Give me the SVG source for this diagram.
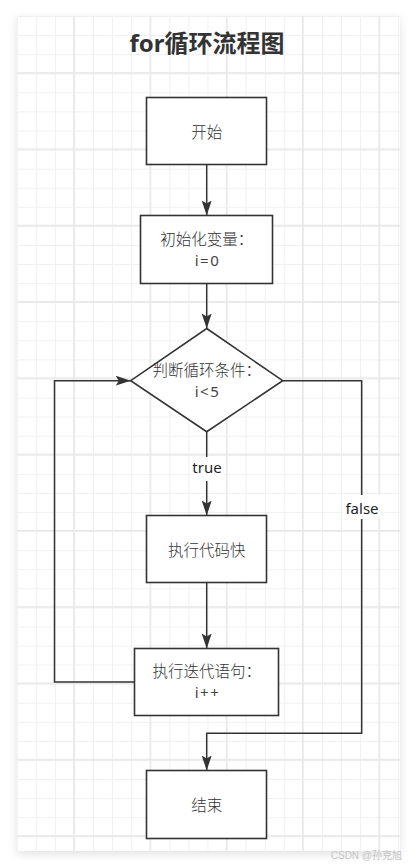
<svg xmlns="http://www.w3.org/2000/svg" width="417" height="867" viewBox="0 0 417 867">
  <defs>
    <style>
      .node { fill: #ffffff; stroke: #333333; stroke-width: 1.6; }
      .edge { fill: none; stroke: #333333; stroke-width: 1.5; }
      .lbl { font-family: "Noto Sans CJK SC", "Noto Sans", sans-serif; font-size: 15.5px; font-weight: 300; fill: #333333; text-anchor: middle; }
      .sp { font-family: "Noto Sans", sans-serif; font-size: 15px; font-weight: 400; fill: #444444; letter-spacing: 1.5px; text-anchor: middle; }
      .elbl { font-family: "Noto Sans", "Noto Sans CJK SC", sans-serif; font-size: 15px; fill: #1f1f1f; text-anchor: middle; }
      .title { font-family: "Noto Sans", "Noto Sans CJK SC", sans-serif; font-size: 24px; font-weight: bold; fill: #333333; text-anchor: middle; }
      .wm { font-family: "Liberation Sans", "Noto Sans CJK SC", sans-serif; font-size: 10px; fill: #c4c4c4; text-anchor: end; }
    </style>
    <pattern id="minor" patternUnits="userSpaceOnUse" x="7.2" y="6.5" width="19.075" height="19.075">
      <rect x="9.5" y="0" width="1" height="19.075" fill="#f0f0f0"/>
      <rect x="0" y="9.5" width="19.075" height="1" fill="#f0f0f0"/>
    </pattern>
    <pattern id="major" patternUnits="userSpaceOnUse" x="35.5" y="34.5" width="76.3" height="76.3">
      <rect x="37.6" y="0" width="1.6" height="76.3" fill="#e8e8e8"/>
      <rect x="0" y="37.6" width="76.3" height="1.6" fill="#e8e8e8"/>
    </pattern>
    <filter id="shadow" x="-10%" y="-10%" width="120%" height="120%">
      <feDropShadow dx="0" dy="3" stdDeviation="5" flood-color="#000000" flood-opacity="0.12"/>
    </filter>
    <marker id="arrow" viewBox="0 0 15 10" refX="15" refY="5" markerWidth="15" markerHeight="10" markerUnits="userSpaceOnUse" orient="auto">
      <path d="M0,0 L15,5 L0,10 L3,5 Z" fill="#333333"/>
    </marker>
  </defs>

  <rect x="0" y="0" width="417" height="867" fill="#ffffff"/>
  <g id="canvas">
    <rect x="17" y="16" width="383" height="835" fill="#ffffff" filter="url(#shadow)"/>
    <rect x="17" y="16" width="383" height="835" fill="url(#minor)"/>
    <rect x="17" y="16" width="383" height="835" fill="url(#major)"/>
  </g>

  <text class="title" x="207" y="52">for循环流程图</text>

  <g id="connectors">
    <path class="edge" d="M206.7,164.7 V215.5" marker-end="url(#arrow)"/>
    <path class="edge" d="M206.7,283.5 V328.5" marker-end="url(#arrow)"/>
    <path class="edge" d="M206.7,431.7 V515.5" marker-end="url(#arrow)"/>
    <path class="edge" d="M206.7,582.7 V648.5" marker-end="url(#arrow)"/>
    <path class="edge" d="M134.5,682 H54.5 V380.7 H130.7" marker-end="url(#arrow)"/>
    <path class="edge" d="M282.7,380.7 H361.7 V733.3 H206.7 V770.5" marker-end="url(#arrow)"/>
    <g id="label-true">
      <rect x="191" y="457" width="32" height="24" fill="#ffffff"/>
      <text class="elbl" x="207" y="472.5">true</text>
    </g>
    <g id="label-false">
      <rect x="343" y="495" width="38" height="24" fill="#ffffff"/>
      <text class="elbl" x="362" y="514">false</text>
    </g>
  </g>

  <g id="node-start">
    <rect class="node" x="146.5" y="97.5" width="120" height="67"/>
    <text class="lbl" x="206.7" y="137.5">开始</text>
  </g>

  <g id="node-init">
    <rect class="node" x="140.5" y="215.5" width="132" height="68"/>
    <text class="lbl" x="206.7" y="244.5">初始化变量：</text>
    <text class="sp" x="207.5" y="265.5">i=0</text>
  </g>

  <g id="node-cond">
    <polygon class="node" points="206.7,328.5 282.7,380.7 206.7,431.7 130.7,380.7"/>
    <text class="lbl" x="206.7" y="376">判断循环条件：</text>
    <text class="sp" x="207.5" y="396.5">i&lt;5</text>
  </g>

  <g id="node-body">
    <rect class="node" x="146.5" y="515.5" width="120" height="67"/>
    <text class="lbl" x="206.7" y="556">执行代码快</text>
  </g>

  <g id="node-iter">
    <rect class="node" x="134.5" y="648.5" width="144" height="67"/>
    <text class="lbl" x="206.7" y="677">执行迭代语句：</text>
    <text class="sp" x="207.5" y="697.8">i++</text>
  </g>

  <g id="node-end">
    <rect class="node" x="146.5" y="770.5" width="120" height="68"/>
    <text class="lbl" x="206.7" y="810.5">结束</text>
  </g>

  <text class="wm" x="402" y="859">CSDN @孙克旭</text>
</svg>
